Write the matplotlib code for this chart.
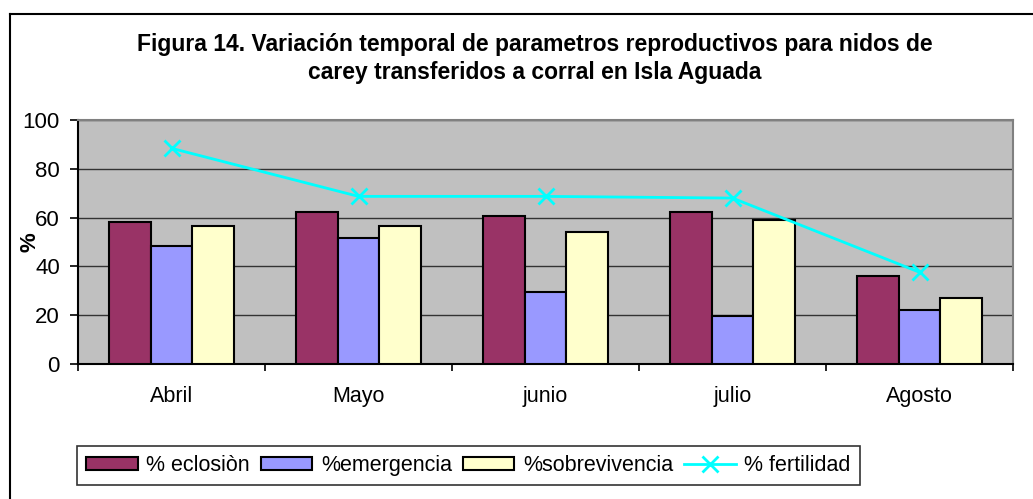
import matplotlib
matplotlib.use("Agg")
import matplotlib.pyplot as plt
import numpy as np
from matplotlib.lines import Line2D

plt.rcParams['font.family'] = ['Liberation Sans', 'DejaVu Sans']

# datos
meses = ['Abril', 'Mayo', 'junio', 'julio', 'Agosto']
eclosion = [58.1, 62.2, 60.6, 62.2, 36.1]
emergencia = [48.4, 51.6, 29.4, 19.5, 22.0]
sobrevivencia = [56.6, 56.6, 54.0, 59.0, 26.9]
fertilidad = [88.4, 68.7, 68.7, 68.0, 37.6]

W, H = 1033, 499
fig = plt.figure(figsize=(W / 100, H / 100), dpi=100)

# plot area in pixels
x0, x1, y0, y1 = 78, 1013, 120, 364
ax = fig.add_axes([x0 / W, 1 - y1 / H, (x1 - x0) / W, (y1 - y0) / H])
ax.set_facecolor('#C0C0C0')

x = np.arange(len(meses))
bw = 1 / 4.5
kw = dict(edgecolor='black', linewidth=1.5, zorder=3)
b1 = ax.bar(x - bw, eclosion, bw, color='#993366', label='% eclosiòn', **kw)
b2 = ax.bar(x, emergencia, bw, color='#9999FF', label='%emergencia', **kw)
b3 = ax.bar(x + bw, sobrevivencia, bw, color='#FFFFCC', label='%sobrevivencia', **kw)
ln, = ax.plot(x, fertilidad, color='#00FFFF', linewidth=2, marker='x', markersize=11,
              markeredgewidth=2, label='% fertilidad', zorder=4)

ax.set_xlim(-0.5, len(meses) - 0.5)
ax.set_ylim(0, 100)
ax.set_yticks(range(0, 101, 20))
ax.yaxis.grid(True, color='#333333', linewidth=1)
ax.set_axisbelow(True)

# ticks between categories, labels centred
ax.set_xticks(np.arange(len(meses) + 1) - 0.5)
ax.set_xticklabels([])
ax.set_xticks(x, minor=True)
ax.set_xticklabels(meses, minor=True, fontsize=15.5)
ax.tick_params(axis='x', which='minor', length=0, pad=16)
ax.tick_params(axis='x', which='major', length=5, width=1.2)
ax.tick_params(axis='y', length=6, width=1.2, pad=7, labelsize=16)

for s in ['top', 'right']:
    ax.spines[s].set_color('#808080')
    ax.spines[s].set_linewidth(1.5)
for s in ['left', 'bottom']:
    ax.spines[s].set_color('black')
    ax.spines[s].set_linewidth(1.5)

fig.text(30 / W, 1 - 242 / H, '%', rotation=90, fontsize=16, fontweight='bold',
         ha='center', va='center')

fig.text(535 / W, 1 - 45 / H, 'Figura 14. Variación temporal de parametros reproductivos para nidos de',
         fontsize=16.5, fontweight='bold', ha='center', va='center')
fig.text(535 / W, 1 - 73 / H, 'carey transferidos a corral en Isla Aguada',
         fontsize=16.5, fontweight='bold', ha='center', va='center')

# outer chart border (cut by the image edge)
fig.add_artist(Line2D([9.5 / W, 1], [1 - 14 / H, 1 - 14 / H], color='black', lw=1.5))
fig.add_artist(Line2D([9.5 / W, 9.5 / W], [0, 1 - 14 / H], color='black', lw=1.5))

leg = fig.legend([b1, b2, b3, ln], [b1.get_label(), b2.get_label(), b3.get_label(), ln.get_label()],
                 ncol=4, loc='upper left', bbox_to_anchor=(77 / W, 1 - 446 / H),
                 frameon=True, fancybox=False, edgecolor='black', fontsize=15.5,
                 handlelength=2.4, handleheight=0.6, handletextpad=0.4, columnspacing=0.5,
                 borderpad=0.42, borderaxespad=0)
leg.get_frame().set_linewidth(1.2)

fig.savefig('out.png', dpi=100)
